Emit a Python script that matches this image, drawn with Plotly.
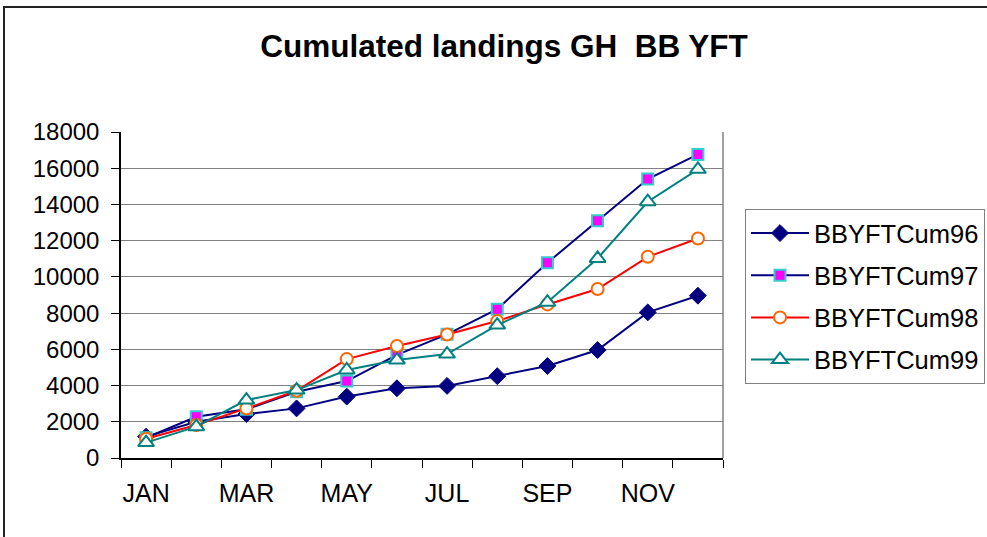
import plotly.graph_objects as go

# Cumulative baitboat yellowfin landings by month, 1996-1999
months = ["JAN", "FEB", "MAR", "APR", "MAY", "JUN",
          "JUL", "AUG", "SEP", "OCT", "NOV", "DEC"]
month_labels = ["JAN", "", "MAR", "", "MAY", "",
                "JUL", "", "SEP", "", "NOV", ""]

cum96 = [1180, 2000, 2430, 2740, 3390, 3850, 3980, 4520, 5080, 5960, 8040, 8960]
cum97 = [1120, 2280, 2690, 3660, 4250, 5690, 6830, 8220, 10780, 13100, 15400, 16760]
cum98 = [1060, 1820, 2740, 3710, 5460, 6180, 6820, 7560, 8480, 9330, 11110, 12120]
cum99 = [850, 1730, 3200, 3750, 4860, 5410, 5740, 7340, 8600, 11020, 14150, 15940]

y_ticks = [0, 2000, 4000, 6000, 8000, 10000, 12000, 14000, 16000, 18000]

series = [
    ("BBYFTCum96", cum96, dict(color="#000080", width=2),
     dict(symbol="diamond", size=13, color="#000080",
          line=dict(color="#000080", width=1))),
    ("BBYFTCum97", cum97, dict(color="#000080", width=2),
     dict(symbol="square", size=11, color="#FF00FF",
          line=dict(color="#33CCCC", width=2))),
    ("BBYFTCum98", cum98, dict(color="#FF0000", width=2),
     dict(symbol="circle", size=12, color="#FFFFFF",
          line=dict(color="#FF6600", width=2))),
    ("BBYFTCum99", cum99, dict(color="#008080", width=2),
     dict(symbol="triangle-up", size=14, color="#FFFFFF",
          line=dict(color="#008080", width=2))),
]

fig = go.Figure()
for i, (name, vals, line, marker) in enumerate(series):
    fig.add_trace(go.Scatter(
        x=months, y=vals, name=name, mode="lines+markers",
        line=line, marker=marker, legendgroup=f"g{i}",
    ))

L, R, T, B = 121, 723, 132, 458
W, H = 987, 537
pw, ph = R - L, B - T

def px_x(x):
    return (x - L) / pw

def px_y(y):
    return (B - y) / ph

fig.update_layout(
    width=W, height=H,
    margin=dict(l=L, r=W - R, t=T, b=H - B, pad=0, autoexpand=False),
    paper_bgcolor="white", plot_bgcolor="white",
    font=dict(family="Arial, Liberation Sans, sans-serif", size=24, color="black"),
    title=dict(text="<b>Cumulated landings GH  BB YFT</b>",
               font=dict(size=31.5, color="black"),
               x=504 / W, xanchor="center", xref="container",
               y=1 - 46 / H, yanchor="middle", yref="container"),
    showlegend=True,
    legend=dict(
        x=px_x(745), xanchor="left", y=px_y(209), yanchor="top",
        bordercolor="#808080", borderwidth=1, bgcolor="white",
        font=dict(size=25.5), traceorder="grouped", tracegroupgap=6,
        itemwidth=58,
    ),
    xaxis=dict(
        type="category", categoryorder="array", categoryarray=months,
        tickmode="array", tickvals=months, ticktext=month_labels,
        tickson="boundaries", ticks="outside", ticklen=8, tickwidth=1,
        tickcolor="black", showgrid=False, showline=True,
        linecolor="black", linewidth=1.5, zeroline=False,
        tickangle=0, tickfont=dict(size=25),
        ticklabelstandoff=12, range=[-0.5, 11.5],
    ),
    yaxis=dict(
        range=[0, 18000], tickmode="array", tickvals=y_ticks,
        tickformat="d",
        ticks="outside", ticklen=8, tickwidth=1, tickcolor="black",
        showgrid=True, gridcolor="#808080", gridwidth=1.3,
        showline=True, linecolor="black", linewidth=1.5, zeroline=False,
        ticklabelstandoff=7,
    ),
    shapes=[
        # plot area right edge
        dict(type="line", xref="paper", yref="paper", x0=1, x1=1, y0=0, y1=1,
             line=dict(color="#808080", width=1.5), layer="below"),
        # chart outer frame
        dict(type="rect", xref="paper", yref="paper",
             x0=px_x(4), x1=px_x(995), y0=px_y(545), y1=px_y(7),
             line=dict(color="#222222", width=2), layer="below"),
    ],
)

fig.write_html("out.html")
